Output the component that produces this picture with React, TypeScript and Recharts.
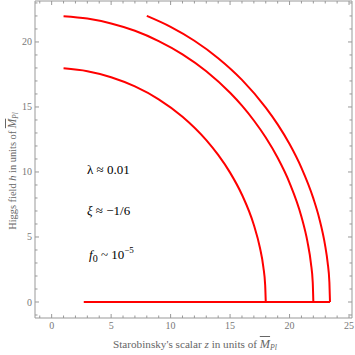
import React from "react";
import { LineChart, Line, XAxis, YAxis } from "recharts";

const innerCurve = [
  { z: 1, h: 17.97 }, { z: 3, h: 17.75 }, { z: 5, h: 17.29 }, { z: 7, h: 16.58 },
  { z: 9, h: 15.59 }, { z: 11, h: 14.25 }, { z: 13, h: 12.45 }, { z: 14, h: 11.31 },
  { z: 15, h: 9.95 }, { z: 16, h: 8.25 }, { z: 17, h: 5.92 }, { z: 17.5, h: 4.21 },
  { z: 17.8, h: 2.67 }, { z: 17.95, h: 1.3 }, { z: 18, h: 0 },
];

const middleCurve = [
  { z: 1, h: 21.98 }, { z: 3, h: 21.8 }, { z: 5, h: 21.42 }, { z: 7, h: 20.86 },
  { z: 9, h: 20.07 }, { z: 11, h: 19.05 }, { z: 13, h: 17.75 }, { z: 15, h: 16.09 },
  { z: 16, h: 15.1 }, { z: 17, h: 13.96 }, { z: 18, h: 12.65 }, { z: 19, h: 11.09 },
  { z: 20, h: 9.17 }, { z: 21, h: 6.56 }, { z: 21.5, h: 4.66 }, { z: 21.8, h: 2.96 },
  { z: 21.95, h: 1.5 }, { z: 22, h: 0 },
];

const outerCurve = [
  { z: 8, h: 22 }, { z: 10, h: 21.16 }, { z: 12, h: 20.09 }, { z: 14, h: 18.75 },
  { z: 16, h: 17.08 }, { z: 18, h: 14.95 }, { z: 19, h: 13.66 }, { z: 20, h: 12.15 },
  { z: 21, h: 10.32 }, { z: 22, h: 7.97 }, { z: 22.5, h: 6.43 }, { z: 23, h: 4.3 },
  { z: 23.2, h: 3.05 }, { z: 23.35, h: 1.5 }, { z: 23.4, h: 0 },
];

const baseLine = [
  { z: 2.7, h: 0 },
  { z: 23.4, h: 0 },
];

const xTicks = [-1, 0, 1, 2, 3, 4, 5, 6, 7, 8, 9, 10, 11, 12, 13, 14, 15, 16, 17, 18, 19, 20, 21, 22, 23, 24, 25];
const yTicks = [-1, 0, 1, 2, 3, 4, 5, 6, 7, 8, 9, 10, 11, 12, 13, 14, 15, 16, 17, 18, 19, 20, 21, 22, 23];

const frame = "#999";
const labelGray = "#777";
const serif = "'Liberation Serif', 'Times New Roman', serif";

const BottomTick = (props: any) => {
  const { x, y, payload } = props;
  const major = payload.value % 5 === 0;
  return (
    <g>
      <line x1={x} x2={x} y1={y} y2={y - (major ? 4 : 2.5)} stroke={frame} />
      {major && (
        <text x={x} y={y + 11} textAnchor="middle" fontSize={10} fill={labelGray} fontFamily={serif}>
          {payload.value}
        </text>
      )}
    </g>
  );
};

const TopTick = (props: any) => {
  const { x, y, payload } = props;
  const major = payload.value % 5 === 0;
  return <line x1={x} x2={x} y1={y} y2={y + (major ? 4 : 2.5)} stroke={frame} />;
};

const LeftTick = (props: any) => {
  const { x, y, payload } = props;
  const major = payload.value % 5 === 0;
  return (
    <g>
      <line x1={x} x2={x + (major ? 4 : 2.5)} y1={y} y2={y} stroke={frame} />
      {major && (
        <text x={x - 3} y={y + 3.5} textAnchor="end" fontSize={10} fill={labelGray} fontFamily={serif}>
          {payload.value}
        </text>
      )}
    </g>
  );
};

const RightTick = (props: any) => {
  const { x, y, payload } = props;
  const major = payload.value % 5 === 0;
  return <line x1={x} x2={x - (major ? 4 : 2.5)} y1={y} y2={y} stroke={frame} />;
};

const note: React.CSSProperties = {
  position: "absolute",
  left: 87,
  fontFamily: serif,
  fontSize: 13,
  color: "#000",
  whiteSpace: "nowrap",
  lineHeight: "14px",
};

const axisTitle: React.CSSProperties = {
  position: "absolute",
  textAlign: "center",
  fontFamily: serif,
  color: "#666",
  whiteSpace: "nowrap",
  lineHeight: "16px",
};

const Mpl = () => (
  <span>
    <span style={{ fontStyle: "italic", textDecoration: "overline", fontSize: "1.1em" }}>M</span>
    <span style={{ fontStyle: "italic", fontSize: "0.7em", position: "relative", top: 2 }}>Pl</span>
  </span>
);

export default function App() {
  return (
    <div style={{ position: "absolute", left: 0, top: 0, width: 355, height: 355, background: "#fff" }}>
      <LineChart width={355} height={355} margin={{ top: 0, right: 2, bottom: 0, left: 0 }}>
        <XAxis
          type="number"
          dataKey="z"
          domain={[-1.4, 25.25]}
          ticks={xTicks}
          interval={0}
          height={37}
          stroke={frame}
          tickSize={0}
          tickMargin={0}
          tick={<BottomTick />}
          allowDataOverflow
        />
        <XAxis
          xAxisId="top"
          orientation="top"
          type="number"
          dataKey="z"
          domain={[-1.4, 25.25]}
          ticks={xTicks}
          interval={0}
          height={1}
          stroke={frame}
          tickSize={0}
          tickMargin={0}
          tick={<TopTick />}
          allowDataOverflow
        />
        <YAxis
          type="number"
          dataKey="h"
          domain={[-1.23, 23.15]}
          ticks={yTicks}
          interval={0}
          width={35}
          stroke={frame}
          tickSize={0}
          tickMargin={0}
          tick={<LeftTick />}
          allowDataOverflow
        />
        <YAxis
          yAxisId="right"
          orientation="right"
          type="number"
          dataKey="h"
          domain={[-1.23, 23.15]}
          ticks={yTicks}
          interval={0}
          width={1}
          stroke={frame}
          tickSize={0}
          tickMargin={0}
          tick={<RightTick />}
          allowDataOverflow
        />
        <Line data={baseLine} dataKey="h" type="linear" stroke="#ff0000" strokeWidth={2} dot={false} isAnimationActive={false} />
        <Line data={innerCurve} dataKey="h" type="monotone" stroke="#ff0000" strokeWidth={2} dot={false} isAnimationActive={false} />
        <Line data={middleCurve} dataKey="h" type="monotone" stroke="#ff0000" strokeWidth={2} dot={false} isAnimationActive={false} />
        <Line
          data={outerCurve}
          dataKey="h"
          xAxisId="top"
          yAxisId="right"
          type="monotone"
          stroke="#ff0000"
          strokeWidth={2}
          dot={false}
          isAnimationActive={false}
        />
      </LineChart>

      <div style={{ ...note, top: 163 }}>λ ≈ 0.01</div>
      <div style={{ ...note, top: 204 }}>
        <i>ξ</i> ≈ −1/6
      </div>
      <div style={{ ...note, top: 244, left: 89 }}>
        <i>f</i>
        <span style={{ fontSize: 10, position: "relative", top: 3 }}>0</span> ~ 10
        <sup style={{ fontSize: 9, position: "relative", top: -1 }}>−5</sup>
      </div>

      <div style={{ ...axisTitle, fontSize: 11.2, left: 45, width: 300, top: 336 }}>
        Starobinsky's scalar <i>z</i> in units of <Mpl />
      </div>
      <div
        style={{
          ...axisTitle,
          fontSize: 10.4,
          left: 13,
          top: 170,
          width: 300,
          marginLeft: -150,
          marginTop: -8,
          transform: "rotate(-90deg)",
        }}
      >
        Higgs field <i>h</i> in units of <Mpl />
      </div>
    </div>
  );
}
